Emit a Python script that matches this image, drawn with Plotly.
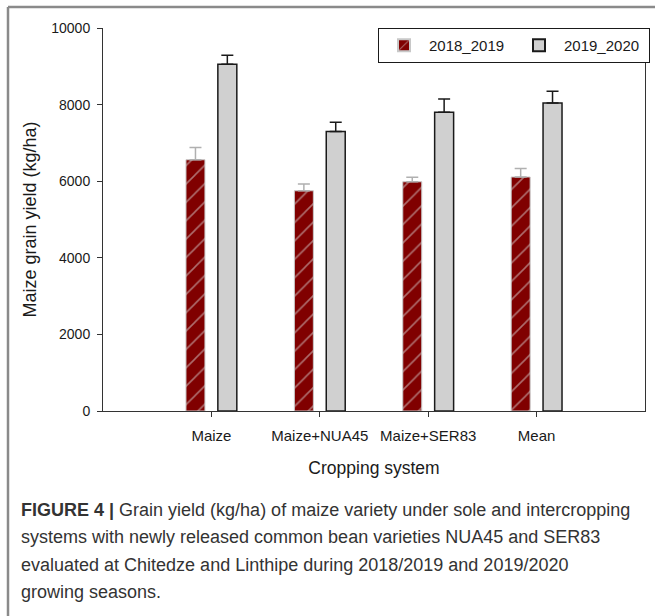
import plotly.graph_objects as go

categories = ["Maize", "Maize+NUA45", "Maize+SER83", "Mean"]
yield_2018_2019 = [6560, 5750, 5985, 6110]
err_2018_2019 = [320, 175, 115, 220]
yield_2019_2020 = [9055, 7300, 7800, 8045]
err_2019_2020 = [235, 242, 346, 303]
y_ticks = [0, 2000, 4000, 6000, 8000, 10000]
caption_lines = [
    "<b>FIGURE 4 |</b> Grain yield (kg/ha) of maize variety under sole and intercropping",
    "systems with newly released common bean varieties NUA45 and SER83",
    "evaluated at Chitedze and Linthipe during 2018/2019 and 2019/2020",
    "growing seasons.",
]

W, H = 655, 616
L, R, T, B = 103, 645, 28, 411
pw, ph = R - L, B - T

def px(x):
    return (x - L) / pw

def py(y):
    return (B - y) / ph

xpos = [1, 2, 3, 4]
bw = 0.175

fig = go.Figure()
fig.add_trace(go.Bar(
    x=xpos, y=yield_2018_2019, name="2018_2019",
    width=bw, offset=-0.147 - bw / 2,
    marker=dict(color="#800000", line=dict(color="#c8c8c8", width=1),
                pattern=dict(shape="/", fgcolor="#dcdcdc", bgcolor="#800000", size=13, solidity=0.12)),
    error_y=dict(type="data", array=err_2018_2019, arrayminus=[0] * 4, symmetric=False,
                 color="#b0b0b0", thickness=1.5, width=6),
))
fig.add_trace(go.Bar(
    x=xpos, y=yield_2019_2020, name="2019_2020",
    width=bw, offset=0.147 - bw / 2,
    marker=dict(color="#d0d0d0", line=dict(color="#1a1a1a", width=1.5)),
    error_y=dict(type="data", array=err_2019_2020, arrayminus=[0] * 4, symmetric=False,
                 color="#1a1a1a", thickness=1.5, width=6),
))

fig.update_layout(
    width=W, height=H,
    margin=dict(l=L, r=W - R, t=T, b=H - B, pad=0, autoexpand=False),
    paper_bgcolor="white", plot_bgcolor="white",
    barmode="overlay",
    font=dict(family="Arial", color="#1a1a1a", size=14),
    showlegend=True,
    legend=dict(
        orientation="h", x=px(378), y=1, xanchor="left", yanchor="top",
        bordercolor="#1a1a1a", borderwidth=1, bgcolor="white",
        font=dict(size=15, color="#1a1a1a"), entrywidth=80, itemsizing="constant",
        itemwidth=40,
    ),
    xaxis=dict(
        range=[0, 5], tickmode="array", tickvals=xpos, ticktext=categories,
        showline=True, linecolor="#333333", linewidth=1, ticks="outside", ticklen=5,
        tickcolor="#333333", showgrid=False, zeroline=False, mirror=False,
        tickfont=dict(size=15), tickangle=0, ticklabelstandoff=6,
        title=dict(text="Cropping system", font=dict(size=17.5), standoff=18),
    ),
    yaxis=dict(
        range=[0, 10000], tickvals=y_ticks, tickformat="d",
        showline=True, linecolor="#333333", linewidth=1, ticks="outside", ticklen=5,
        tickcolor="#333333", showgrid=False, zeroline=False, mirror=True,
        tickfont=dict(size=14), ticklabelstandoff=4,
        title=dict(text="Maize grain yield (kg/ha)", font=dict(size=18), standoff=9),
    ),
)

# page frame lines (left and top)
fig.add_shape(type="line", xref="paper", yref="paper", x0=px(8), x1=px(655), y0=py(7), y1=py(7),
              line=dict(color="#8a8a8a", width=2.5), layer="above")
fig.add_shape(type="line", xref="paper", yref="paper", x0=px(8), x1=px(8), y0=py(7), y1=py(616),
              line=dict(color="#8a8a8a", width=2.5), layer="above")

cap_y = [510, 537, 565, 592]
for line, yy in zip(caption_lines, cap_y):
    fig.add_annotation(text=line, xref="paper", yref="paper", x=px(19), y=py(yy),
                       xanchor="left", yanchor="middle", showarrow=False, align="left",
                       font=dict(family="Arial", size=18, color="#333333"))

fig.write_html("out.html", config={"displayModeBar": False},
               post_script="document.body.style.margin='0';")
